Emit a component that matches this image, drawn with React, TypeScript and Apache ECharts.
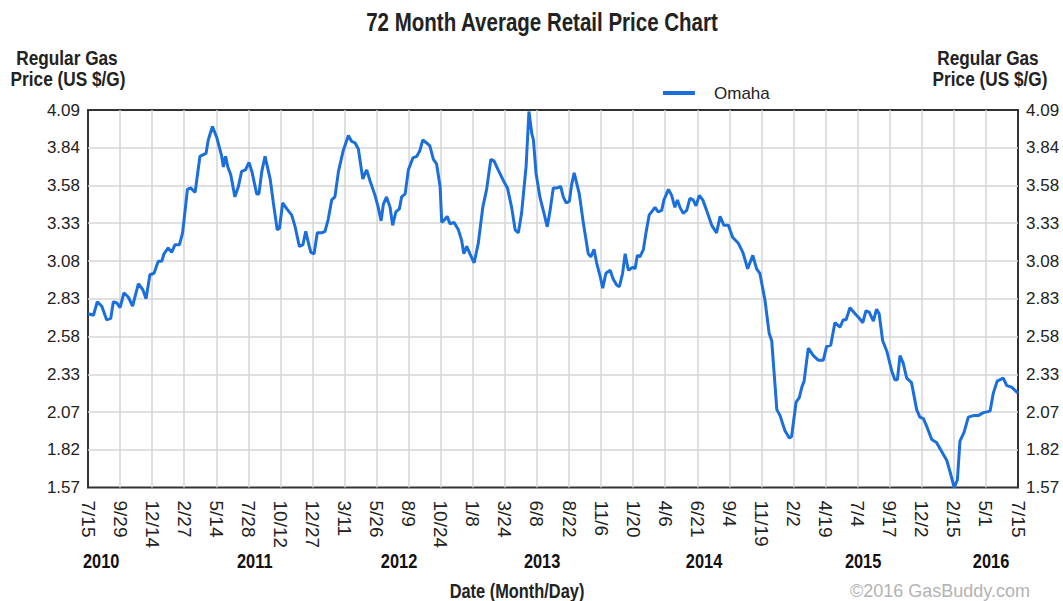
import React, { useEffect, useRef } from "react";
import * as echarts from "echarts";

// Date axis tick labels (one every ~11 weeks)
const dateLabels = [
  "7/15", "9/29", "12/14", "2/27", "5/14", "7/28", "10/12", "12/27", "3/11", "5/26",
  "8/9", "10/24", "1/8", "3/24", "6/8", "8/22", "11/6", "1/20", "4/6", "6/21",
  "9/4", "11/19", "2/2", "4/19", "7/4", "9/17", "12/2", "2/15", "5/1", "7/15",
];

// Price axis tick labels
const priceTickLabels = ["1.57", "1.82", "2.07", "2.33", "2.58", "2.83", "3.08", "3.33", "3.58", "3.84", "4.09"];

// Year labels and their position on the date axis (in tick steps)
const yearLabels = ["2010", "2011", "2012", "2013", "2014", "2015", "2016"];
const yearPositions = [0.41, 5.2, 9.7, 14.16, 19.21, 24.17, 28.16];

// Sample positions along the date axis (in tick steps)
const datePos = [
  0, 0.17, 0.29, 0.43, 0.58, 0.71, 0.79, 0.91, 1.0, 1.12,
  1.26, 1.39, 1.57, 1.71, 1.81, 1.93, 2.06, 2.19, 2.3, 2.37,
  2.5, 2.61, 2.71, 2.85, 2.95, 3.1, 3.2, 3.34, 3.49, 3.68,
  3.75, 3.88, 4.01, 4.17, 4.22, 4.29, 4.36, 4.45, 4.58, 4.69,
  4.79, 4.91, 5.02, 5.11, 5.26, 5.33, 5.42, 5.52, 5.68, 5.78,
  5.9, 5.97, 6.07, 6.2, 6.35, 6.46, 6.59, 6.7, 6.79, 6.9,
  6.95, 7.05, 7.15, 7.29, 7.39, 7.49, 7.6, 7.7, 7.81, 7.96,
  8.12, 8.22, 8.33, 8.43, 8.57, 8.69, 8.79, 8.95, 9.05, 9.14,
  9.21, 9.31, 9.42, 9.5, 9.6, 9.71, 9.78, 9.89, 9.99, 10.13,
  10.25, 10.35, 10.44, 10.56, 10.66, 10.77, 10.87, 10.98, 11.03, 11.13,
  11.2, 11.29, 11.41, 11.55, 11.65, 11.72, 11.81, 11.91, 12.04, 12.17,
  12.31, 12.43, 12.56, 12.66, 12.79, 12.95, 13.08, 13.21, 13.32, 13.42,
  13.52, 13.66, 13.75, 13.84, 13.89, 13.97, 14.09, 14.22, 14.32, 14.41,
  14.51, 14.63, 14.74, 14.82, 14.91, 15.01, 15.08, 15.16, 15.32, 15.45,
  15.6, 15.68, 15.78, 15.86, 15.97, 16.05, 16.15, 16.28, 16.38, 16.49,
  16.57, 16.67, 16.75, 16.85, 16.99, 17.06, 17.13, 17.21, 17.32, 17.4,
  17.5, 17.61, 17.68, 17.78, 17.89, 17.96, 18.1, 18.2, 18.3, 18.38,
  18.46, 18.56, 18.67, 18.77, 18.87, 18.96, 19.06, 19.17, 19.29, 19.45,
  19.6, 19.71, 19.83, 19.97, 20.1, 20.28, 20.42, 20.57, 20.73, 20.85,
  20.95, 21.11, 21.24, 21.32, 21.48, 21.58, 21.73, 21.87, 21.94, 22.08,
  22.18, 22.26, 22.33, 22.46, 22.62, 22.77, 22.93, 23.03, 23.16, 23.29,
  23.45, 23.55, 23.64, 23.76, 23.92, 24.05, 24.16, 24.26, 24.36, 24.49,
  24.59, 24.67, 24.78, 24.91, 25.06, 25.16, 25.24, 25.32, 25.42, 25.53,
  25.68, 25.84, 25.94, 26.05, 26.15, 26.31, 26.46, 26.62, 26.78, 26.9,
  27.01, 27.11, 27.19, 27.32, 27.45, 27.61, 27.76, 27.92, 28.13, 28.23,
  28.35, 28.54, 28.65, 28.8, 29,
];

// Omaha average retail price (US $/G)
const omahaPrice = [
  2.73, 2.72, 2.81, 2.78, 2.69, 2.70, 2.81, 2.80, 2.77, 2.87,
  2.84, 2.78, 2.93, 2.89, 2.83, 2.99, 3.00, 3.08, 3.08, 3.13,
  3.17, 3.14, 3.19, 3.19, 3.27, 3.56, 3.57, 3.54, 3.78, 3.80,
  3.89, 3.98, 3.91, 3.78, 3.71, 3.78, 3.71, 3.66, 3.51, 3.58,
  3.68, 3.69, 3.74, 3.68, 3.53, 3.53, 3.68, 3.78, 3.63, 3.47,
  3.29, 3.30, 3.47, 3.43, 3.39, 3.31, 3.18, 3.19, 3.28, 3.18,
  3.14, 3.13, 3.27, 3.27, 3.28, 3.36, 3.49, 3.51, 3.68, 3.82,
  3.92, 3.88, 3.87, 3.83, 3.63, 3.69, 3.62, 3.52, 3.44, 3.35,
  3.46, 3.51, 3.44, 3.32, 3.41, 3.43, 3.51, 3.53, 3.69, 3.77,
  3.78, 3.82, 3.89, 3.87, 3.85, 3.76, 3.73, 3.58, 3.34, 3.36,
  3.38, 3.33, 3.34, 3.29, 3.22, 3.13, 3.18, 3.13, 3.07, 3.20,
  3.44, 3.56, 3.76, 3.75, 3.69, 3.62, 3.57, 3.44, 3.29, 3.27,
  3.40, 3.71, 4.08, 3.93, 3.89, 3.67, 3.51, 3.40, 3.31, 3.42,
  3.57, 3.57, 3.58, 3.51, 3.47, 3.48, 3.59, 3.67, 3.53, 3.33,
  3.13, 3.11, 3.16, 3.07, 2.98, 2.90, 3.00, 3.02, 2.96, 2.92,
  2.91, 3.00, 3.13, 3.02, 3.04, 3.03, 3.12, 3.11, 3.16, 3.27,
  3.39, 3.42, 3.44, 3.41, 3.42, 3.49, 3.56, 3.52, 3.44, 3.49,
  3.44, 3.40, 3.42, 3.50, 3.49, 3.45, 3.52, 3.49, 3.42, 3.32,
  3.27, 3.38, 3.32, 3.32, 3.24, 3.20, 3.14, 3.03, 3.12, 3.03,
  3.00, 2.82, 2.60, 2.55, 2.09, 2.05, 1.95, 1.90, 1.91, 2.14,
  2.17, 2.24, 2.28, 2.50, 2.45, 2.42, 2.42, 2.51, 2.52, 2.67,
  2.64, 2.69, 2.69, 2.77, 2.73, 2.70, 2.67, 2.75, 2.74, 2.68,
  2.76, 2.73, 2.55, 2.48, 2.35, 2.29, 2.29, 2.45, 2.40, 2.30,
  2.27, 2.09, 2.04, 2.03, 1.98, 1.89, 1.87, 1.81, 1.75, 1.66,
  1.57, 1.62, 1.88, 1.94, 2.04, 2.05, 2.05, 2.07, 2.08, 2.20,
  2.28, 2.30, 2.25, 2.24, 2.20,
];

const FR = "'Liberation Sans', Arial, sans-serif";
const LINE_COLOR = "#1b6fdc";
const NARROW = 0.82;

export default function App() {
  const ref = useRef<HTMLDivElement>(null);

  useEffect(() => {
    if (!ref.current) return;
    const chart = echarts.init(ref.current, null, { renderer: "svg" });
    const yMin = 1.57;
    const yMax = 4.09;
    const yStep = 0.252;
    const yLabelFmt = (v: number) => priceTickLabels[Math.round((v - yMin) / yStep)] ?? "";

    const yBase: any = {
      type: "value",
      min: yMin,
      max: yMax,
      interval: yStep,
      axisLine: { show: false },
      axisTick: { show: false },
      axisLabel: { formatter: yLabelFmt, fontFamily: FR, fontSize: 17, color: "#222", margin: 8 },
    };

    const data = datePos.map((p, i) => [p, omahaPrice[i]]);

    chart.setOption({
      animation: false,
      backgroundColor: "#ffffff",
      legend: {
        left: 663,
        top: 83,
        padding: 0,
        icon: "rect",
        itemWidth: 32,
        itemHeight: 4,
        data: ["Omaha"],
        textStyle: { fontFamily: FR, fontSize: 17, lineHeight: 20, color: "#222", padding: [0, 0, 0, 14] },
      },
      grid: {
        left: 88,
        right: 45,
        top: 110,
        bottom: 113.5,
        show: true,
        borderColor: "#333",
        borderWidth: 2,
        backgroundColor: "#fff",
      },
      xAxis: {
        type: "value",
        min: 0,
        max: dateLabels.length - 1,
        interval: 1,
        axisLine: { show: false },
        axisTick: { show: false },
        splitLine: {
          show: true,
          showMinLine: false,
          showMaxLine: false,
          lineStyle: { color: "#d6d6d6", width: 1.5 },
        },
        axisLabel: {
          rotate: -90,
          formatter: (v: number) => dateLabels[Math.round(v)] ?? "",
          fontFamily: FR,
          fontSize: 19,
          color: "#222",
          margin: 13,
          showMinLabel: true,
          showMaxLabel: true,
        },
      },
      yAxis: [
        {
          ...yBase,
          position: "left",
          splitLine: {
            show: true,
            showMinLine: false,
            showMaxLine: false,
            lineStyle: { color: "#d6d6d6", width: 1.5 },
          },
        },
        { ...yBase, position: "right", splitLine: { show: false } },
      ],
      series: [
        {
          type: "line",
          name: "Omaha",
          data,
          showSymbol: false,
          symbol: "none",
          lineStyle: { color: LINE_COLOR, width: 3 },
          itemStyle: { color: LINE_COLOR },
        },
      ],
    });

    const narrowText = (txt: string, x: number, y: number, size: number, bold = true, fill = "#222") => ({
      type: "text",
      x,
      y,
      scaleX: NARROW,
      style: {
        text: txt,
        align: "center",
        verticalAlign: "middle",
        font: `${bold ? "bold " : ""}${size}px ${FR}`,
        fill,
      },
    });

    const graphics: any[] = yearLabels.map((yl, i) => {
      const x = chart.convertToPixel({ xAxisIndex: 0 }, yearPositions[i]) as number;
      return narrowText(yl, x, 561, 20, true, "#111");
    });
    graphics.push(
      narrowText("72 Month Average Retail Price Chart", 542, 22, 25, true, "#222"),
      narrowText("Regular Gas", 67, 58, 21),
      narrowText("Price (US $/G)", 68, 79, 21),
      narrowText("Regular Gas", 988, 58, 21),
      narrowText("Price (US $/G)", 990, 79, 21),
      narrowText("Date (Month/Day)", 517, 591, 20),
      {
        type: "text",
        x: 940,
        y: 591,
        style: { text: "©2016 GasBuddy.com", align: "center", verticalAlign: "middle", font: `18px ${FR}`, fill: "#b3b3b3" },
      }
    );
    chart.setOption({ graphic: graphics });

    return () => chart.dispose();
  }, []);

  return <div ref={ref} style={{ width: 1063, height: 601, position: "absolute", left: 0, top: 0 }} />;
}
